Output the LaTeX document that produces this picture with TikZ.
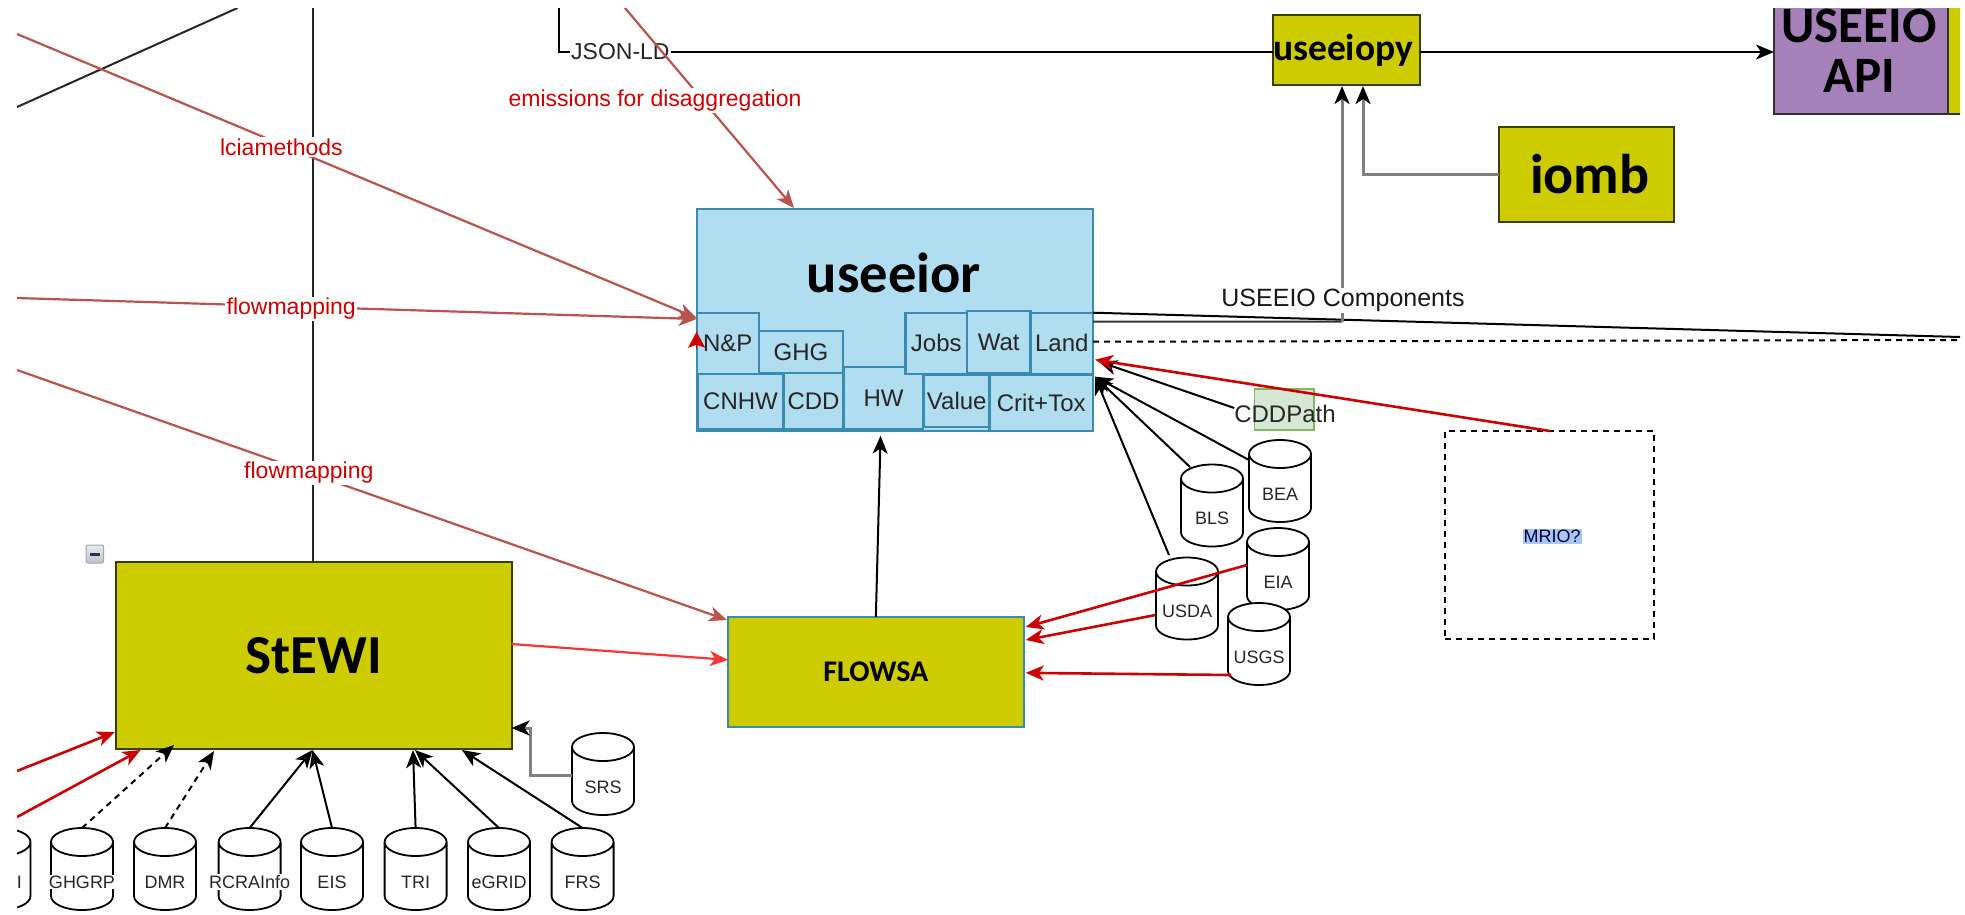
\documentclass[tikz,border=0pt]{standalone}
\usepackage{fontspec}
\setmainfont{Liberation Sans}
\newfontfamily\calfont{Carlito}
\usetikzlibrary{arrows.meta,calc}
\definecolor{olive}{HTML}{CCCC00}
\definecolor{skyfill}{HTML}{B1DDF0}
\definecolor{skyline}{HTML}{3A8BB0}
\definecolor{mapred}{HTML}{B85450}
\definecolor{darkred}{HTML}{CC0000}
\definecolor{lightred}{HTML}{FF3333}
\definecolor{purp}{HTML}{A680B8}
\definecolor{grn}{HTML}{D5E8D4}
\definecolor{grnline}{HTML}{82B366}
\definecolor{hilite}{HTML}{A9C7EE}
\definecolor{btnhi}{HTML}{E6EBF2}
\definecolor{btnlo}{HTML}{B8C4D6}
\makeatletter
\pgfdeclareshape{dbcyl}{
  \inheritsavedanchors[from=rectangle]
  \inheritanchorborder[from=rectangle]
  \inheritanchor[from=rectangle]{center}
  \inheritanchor[from=rectangle]{north}
  \inheritanchor[from=rectangle]{south}
  \inheritanchor[from=rectangle]{east}
  \inheritanchor[from=rectangle]{west}
  \backgroundpath{
    \southwest \pgf@xa=\pgf@x \pgf@ya=\pgf@y
    \northeast \pgf@xb=\pgf@x \pgf@yb=\pgf@y
    \pgf@xc=\pgf@xb \advance\pgf@xc by -\pgf@xa \divide\pgf@xc by 2
    \edef\dbrx{\the\pgf@xc}
    \edef\dbxa{\the\pgf@xa}\edef\dbxb{\the\pgf@xb}
    \advance\pgf@yb by -14pt \advance\pgf@ya by 14pt
    \edef\dbyt{\the\pgf@yb}\edef\dbyb{\the\pgf@ya}
    \pgfpathmoveto{\pgfqpoint{\dbxa}{\dbyt}}
    \pgfpatharc{180}{0}{\dbrx and 14pt}
    \pgfpathlineto{\pgfqpoint{\dbxb}{\dbyb}}
    \pgfpatharc{0}{-180}{\dbrx and 14pt}
    \pgfpathclose
    \pgfpathmoveto{\pgfqpoint{\dbxa}{\dbyt}}
    \pgfpatharc{180}{360}{\dbrx and 14pt}
  }
}
\makeatother
\newcommand{\fs}[1]{\fontsize{#1}{#1}\selectfont}
\newcommand{\rn}[7][]{%
  \pgfmathsetmacro\bxcx{(#4+#6)/2}\pgfmathsetmacro\bxcy{(#5+#7)/2}%
  \pgfmathsetmacro\bxw{#6-#4}\pgfmathsetmacro\bxh{#7-#5}%
  \node[#2,minimum width=\bxw pt,minimum height=\bxh pt] (#3) at (\bxcx,\bxcy) {#1};}
\tikzset{
  x=1pt,y=-1pt,
  >={Stealth[length=18pt,width=15pt,inset=5pt]},
  base/.style={rectangle,inner sep=0pt,outer sep=0pt,line width=2pt},
  olivebox/.style={base,draw=black!70!olive,fill=olive,text=black},
  sky/.style={base,draw=skyline,fill=skyfill,line width=2.2pt,font=\fs{24},text=black!85},
  db/.style={shape=dbcyl,draw=black,fill=white,line width=1.8pt,
    inner sep=0pt,outer sep=0pt,minimum width=62pt,minimum height=82pt},
  dbt/.style={font=\fs{18},text=black!85,yshift=-13pt,fill=white,inner sep=1pt},
  lbl/.style={fill=white,inner sep=1.5pt,font=\fs{23},text=darkred,yshift=-2.5pt},
  lk/.style={->,line width=2pt,black},
  lkred/.style={->,line width=2.6pt,darkred},
  lkmap/.style={->,line width=2.2pt,mapred},
  lkgray/.style={-{Stealth[length=18pt,width=15pt,inset=5pt,black]},line width=3pt,black!50},
  dsh/.style={dash pattern=on 6pt off 5pt},
}
\begin{document}
\begin{tikzpicture}
\useasboundingbox (0,0) rectangle (1965,914);
\fill[white] (0,0) rectangle (1965,914);
\clip (17,8) rectangle (1960,914);
% free ends
\coordinate (tl) at (237.5,8);
\coordinate (bl) at (17,107);
\coordinate (vt) at (313.4,8);
\coordinate (lciaS) at (17,34);
\coordinate (fm1S) at (17,298);
\coordinate (fm2S) at (17,370);
\coordinate (emS) at (625,8);
\coordinate (jsonS) at (559,8);
\coordinate (r1S) at (17,771);
\coordinate (r2S) at (17,817);
\coordinate (ra) at (1960,337);
\coordinate (rb) at (1960,340);
% boxes
\rn[\calfont\bfseries\fs{55}\raisebox{-5pt}{StEWI}]{olivebox}{stewi}{116}{562}{511.6}{749}
\rn[\calfont\bfseries\fs{30}\raisebox{-2.5pt}{FLOWSA}]{base,draw=skyline,fill=olive}{flowsa}{728}{617}{1023.7}{726.7}
\rn{base,draw=skyline,fill=skyfill}{useeior}{696.6}{209}{1093}{430.7}
\node[font=\calfont\bfseries\fs{56.5}] (useeiort) at (894,272.5) {useeior};
\rn[\calfont\bfseries\fs{37.5}\raisebox{-2.5pt}{\hspace{-7pt}useeiopy}]{olivebox}{useeiopy}{1273}{15}{1420}{85}
\rn[\calfont\bfseries\fs{56}\raisebox{-1pt}{\hspace{7pt}iomb}]{olivebox}{iomb}{1498.5}{126.7}{1674}{221.7}
\rn{base,draw=black!80,fill=purp}{api}{1774}{-20}{1948}{114}
\node[font=\calfont\bfseries\fs{51}] (apit1) at (1859,26) {USEEIO};
\node[font=\calfont\bfseries\fs{51}] (apit2) at (1859,76) {API};
\rn{base,draw=black!80,fill=olive}{edgebox}{1948}{-20}{2000}{114}
\rn{base,draw=grnline,fill=grn,line width=1.5pt}{cddbox}{1254.6}{389}{1314}{430}
\node[font=\fs{24},text=black!85] (cddt) at (1285,414) {CDDPath};
\rn{base,draw=black,dsh,line width=1.8pt,fill=white}{mrio}{1445}{431}{1654}{639}
\node[fill=hilite,inner sep=1pt,font=\fs{18},text=black!70!blue] (mriot) at (1552,536.7) {MRIO?};
\rn{base,draw=gray!70,top color=btnhi,bottom color=btnlo,rounded corners=2pt,line width=1pt}{minus}{86}{545}{103.6}{563}
\fill[black!80] (89.5,553) rectangle (100,555.5);
% sub boxes of useeior
\rn[Crit+Tox]{sky}{crit}{989.5}{375}{1093}{430.7}
\rn[HW]{sky}{hw}{844}{366.7}{923}{429}
\rn[N\&P]{sky}{np}{696.6}{312.7}{759}{374}
\rn[GHG]{sky}{ghg}{759}{331}{843}{372.7}
\rn[CNHW]{sky}{cnhw}{698}{374}{783}{429}
\rn[CDD]{sky}{cdd}{784}{372.7}{843}{429}
\rn[Value]{sky}{value}{924}{375}{989.5}{427}
\rn[Jobs]{sky}{jobs}{905.5}{312.7}{967}{374}
\rn[Wat]{sky}{wat}{967}{311}{1030.5}{373}
\rn[Land]{sky}{land}{1030.5}{312.7}{1093}{374}
% cylinders
\node[db] (edb) at (-0.5,869) {};
\node[font=\fs{18},text=black!85] (edbt) at (19.5,882) {I};
\node[db,label={[dbt]center:GHGRP}] (ghgrp) at (82,869) {};
\node[db,label={[dbt]center:DMR}] (dmr) at (165,869) {};
\node[db,label={[dbt]center:RCRAInfo}] (rcra) at (249.6,869) {};
\node[db,label={[dbt]center:EIS}] (eis) at (332,869) {};
\node[db,label={[dbt]center:TRI}] (tri) at (415.6,869) {};
\node[db,label={[dbt]center:eGRID}] (egrid) at (499,869) {};
\node[db,label={[dbt]center:FRS}] (frs) at (582.6,869) {};
\node[db,label={[dbt]center:SRS}] (srs) at (603,774) {};
\node[db,label={[dbt]center:BEA}] (bea) at (1280,481) {};
\node[db,label={[dbt]center:BLS}] (bls) at (1212,505.5) {};
\node[db,label={[dbt]center:EIA}] (eia) at (1278,569) {};
\node[db,label={[dbt]center:USDA}] (usda) at (1187,598.5) {};
\node[db,label={[dbt]center:USGS}] (usgs) at (1259,644) {};
% black background lines
\draw[line width=2pt,black!85] (bl) -- (tl);
\draw[line width=2pt,black!85] (vt) -- (vt |- stewi.north);
\draw[line width=2pt,black] (jsonS) |- node[pos=.543,fill=white,inner sep=1pt,font=\fs{23},text=black!85] (jsonl) {JSON-LD} ($(useeiopy.west)+(0,2)$);
\draw[lk] ($(useeiopy.east)+(0,2)$) -- ($(api.south west)+(0,-62)$);
% mapping links
\draw[lkmap] (lciaS) -- node[lbl,pos=.389] (lcial) {lciamethods} ($(useeior.south west)+(0,-112.7)$);
\draw[lkmap] (fm1S) -- node[lbl,pos=.4035] (fm1l) {flowmapping} ($(useeior.south west)+(0,-111.7)$);
\draw[lkmap] (fm2S) -- node[lbl,pos=.411,yshift=2.5pt] (fm2l) {flowmapping} ($(flowsa.north west)+(-1,3)$);
\draw[lkmap] (emS) -- node[lbl,pos=.45,xshift=-46pt] (eml) {emissions for disaggregation} ($(useeior.north west)+(97.4,-1)$);
% right side of useeior
\draw[line width=2pt,black] ($(useeior.south east)+(0,-118)$) -- (ra);
\draw[line width=2pt,black!80] ($(useeior.south east)+(0,-109)$) -- ($(useeiopy.south west)+(69,236.7)$);
\draw[lkgray] ($(useeiopy.south west)+(69,236.7)$) -- node[pos=.09,fill=white,inner sep=1.5pt,font=\fs{25},text=black!90,xshift=1pt] (compl) {USEEIO Components} ($(useeiopy.south west)+(69,1)$);
\draw[line width=2pt,black,dsh] ($(useeior.south east)+(0,-89)$) -- (rb);
\draw[lkgray] (iomb.west) -| ($(useeiopy.south west)+(90,1)$);
% arrows into useeior
\draw[lk] ($(bea.center)+(-31,-21)$) -- ($(useeior.south east)+(2,-54)$);
\draw[lk] ($(bls.center)+(-22,-38.5)$) -- ($(useeior.south east)+(2,-54)$);
\draw[lk] ($(usda.center)+(-18,-43.5)$) -- ($(useeior.south east)+(2,-54)$);
\draw[lk] ($(cddbox.center)+(-50,-1.5)$) -- ($(useeior.south east)+(6,-69)$);
\draw[lkred] ($(mrio.north west)+(105,0)$) -- ($(useeior.south east)+(2,-71)$);
\draw[lk] (flowsa.north) -- ($(useeior.south west)+(184,5)$);
\draw[-{Stealth[length=16pt,width=17pt,inset=3pt]},line width=1pt,darkred] ($(np.north west)+(0,36)$) -- ($(np.north west)+(0,19)$);
% arrows into flowsa
\draw[lkred] ($(eia.center)+(-31,-4)$) -- ($(flowsa.north east)+(2,10)$);
\draw[lkred] ($(usda.center)+(-31.5,16.5)$) -- ($(flowsa.north east)+(2,23)$);
\draw[lkred] ($(usgs.center)+(-28,31)$) -- ($(flowsa.east)+(2,1)$);
\draw[->,line width=2.2pt,lightred] ($(stewi.east)+(0,-11.5)$) -- ($(flowsa.west)+(0,-12)$);
% arrows into stewi
\draw[lkred] (r1S) -- ($(stewi.south west)+(-1,-17)$);
\draw[lkred] (r2S) -- ($(stewi.south west)+(24.6,1)$);
\draw[lk,dsh] (ghgrp.north) -- ($(stewi.south west)+(58,-4)$);
\draw[lk,dsh] (dmr.north) -- ($(stewi.south west)+(98,2)$);
\draw[lk] (rcra.north) -- ($(stewi.south west)+(196.5,1)$);
\draw[lk] (eis.north) -- ($(stewi.south west)+(196.5,1)$);
\draw[lk] (tri.north) -- ($(stewi.south west)+(297,1)$);
\draw[lk] (egrid.north) -- ($(stewi.south west)+(299,1)$);
\draw[lk] (frs.north) -- ($(stewi.south west)+(346,1)$);
\draw[lkgray] ($(srs.center)+(-31.5,1)$) -| ($(stewi.south east)+(18.5,-21)$) -- ($(stewi.south east)+(0,-21)$);
\end{tikzpicture}
\end{document}
